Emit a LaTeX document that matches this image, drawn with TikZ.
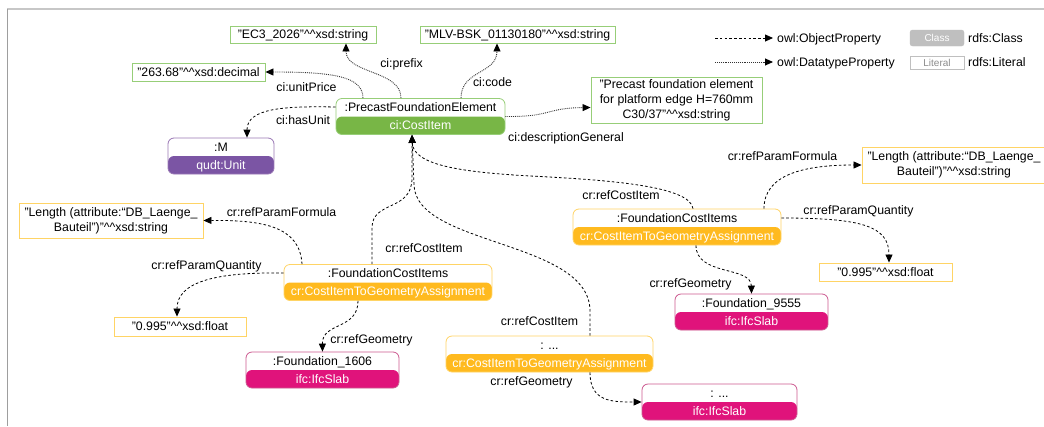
\documentclass[tikz,border=0pt]{standalone}
\usepackage{fontspec}
\setmainfont{Liberation Sans}
\usetikzlibrary{arrows.meta}

% palette
\definecolor{greenF}{HTML}{78B646}
\definecolor{greenB}{HTML}{97CE78}
\definecolor{purpleF}{HTML}{7B55A4}
\definecolor{purpleB}{HTML}{9977B5}
\definecolor{orangeF}{HTML}{FFBA1F}
\definecolor{orangeB}{HTML}{FFD465}
\definecolor{magentaF}{HTML}{E0137B}
\definecolor{magentaB}{HTML}{CC5A90}
\definecolor{legendGray}{HTML}{BFBFBF}

\tikzset{
  x=1pt, y=-1pt,
  lbl/.style={font=\fontsize{12.3}{15}\selectfont, inner sep=0pt, align=center},
  one/.style={text height=8.8pt, text depth=0pt},
  twobox/.style={draw=#1B, line width=0.8pt, rounded corners=6pt, inner sep=0pt,
    minimum height=36pt,
    path picture={\fill[#1F] (path picture bounding box.west) rectangle (path picture bounding box.south east);}},
  litbox/.style={draw=#1, line width=0.9pt, lbl, fill=white},
  objprop/.style={draw=black, line width=0.8pt, dash pattern=on 2.6pt off 2.2pt,
    -{Triangle[length=8pt,width=7pt]}},
  dataprop/.style={draw=black!80, line width=0.9pt, dash pattern=on 0.9pt off 1pt,
    -{Triangle[length=8pt,width=7pt,color=black]}},
}

% two-part individual: name, centre, width, colour key, individual, class
\newcommand\twonode[6]{%
  \node[twobox=#4, minimum width=#3pt] (#1) at #2 {};
  \node[lbl, one] (#1-top) at ([yshift=9pt]#1.center) {#5};
  \node[lbl, one, text=white] (#1-bot) at ([yshift=-9pt]#1.center) {#6};
}

\begin{document}
\begin{tikzpicture}
\useasboundingbox (0,0) rectangle (1044,426);
\fill[white] (0,0) rectangle (1044,426);

% frame lines
\draw[line width=1.8pt, draw=black!22] (7,9) -- (1044,9);
\draw[line width=1.3pt, draw=black!38] (7.5,9) -- (7.5,426);

% individuals
\twonode{main}{(420.5,116.5)}{169}{green}{:PrecastFoundationElement}{ci:CostItem}
\twonode{unitM}{(221,156)}{106}{purple}{:M}{qudt:Unit}
\twonode{fciL}{(388,282.5)}{208}{orange}{:FoundationCostItems}{cr:CostItemToGeometryAssignment}
\twonode{fciR}{(677,227)}{208}{orange}{:FoundationCostItems}{cr:CostItemToGeometryAssignment}
\twonode{fciX}{(549.5,354)}{207}{orange}{: ...}{cr:CostItemToGeometryAssignment}
\twonode{slabL}{(322.5,370)}{153}{magenta}{:Foundation\_1606}{ifc:IfcSlab}
\twonode{slabR}{(751.5,312)}{153}{magenta}{:Foundation\_9555}{ifc:IfcSlab}
\twonode{slabX}{(719.5,402)}{155}{magenta}{: ...}{ifc:IfcSlab}

% literals
\node[litbox=greenB, one, minimum width=146pt, minimum height=17pt] (litPrefix) at (303,34.5) {"EC3\_2026"\^{}\^{}xsd:string};
\node[litbox=greenB, one, minimum width=195pt, minimum height=17pt] (litCode) at (517.5,34.5) {"MLV-BSK\_01130180"\^{}\^{}xsd:string};
\node[litbox=greenB, one, minimum width=133pt, minimum height=18pt] (litPrice) at (198.5,72) {"263.68"\^{}\^{}xsd:decimal};
\node[litbox=greenB, minimum width=171pt, minimum height=46pt] (litDesc) at (676.5,100) {"Precast foundation element\\for platform edge H=760mm\\C30/37"\^{}\^{}xsd:string};
\node[litbox=orangeB, minimum width=184pt, minimum height=35pt] (lenL) at (111,220.5) {"Length (attribute:“DB\_Laenge\_\\Bauteil")"\^{}\^{}xsd:string};
\node[litbox=orangeB, minimum width=184pt, minimum height=36pt] (lenR) at (954,165) {"Length (attribute:“DB\_Laenge\_\\Bauteil")"\^{}\^{}xsd:string};
\node[litbox=orangeB, one, minimum width=132pt, minimum height=19pt] (qtyL) at (180,326.5) {"0.995"\^{}\^{}xsd:float};
\node[litbox=orangeB, one, minimum width=133pt, minimum height=18pt] (qtyR) at (885.5,272) {"0.995"\^{}\^{}xsd:float};

% datatype properties of the cost item
\draw[dataprop] ([xshift=-57.5]main.north) .. controls (363,76) and (332,72) .. (litPrice.east);
\draw[dataprop] ([xshift=-19.5]main.north) .. controls (401,70) and (346,74) .. ([xshift=43]litPrefix.south);
\draw[dataprop] ([xshift=40.5]main.north) .. controls (461,70) and (497,74) .. ([xshift=-20.5]litCode.south);
\draw[dataprop] (main.east) .. controls (552,117) and (545,108) .. ([yshift=-7.5]litDesc.west);

% object properties
\draw[objprop] ([yshift=9.5]main.west) .. controls (285,106) and (247,108) .. ([xshift=26]unitM.north);

\draw[objprop] ([xshift=-16]fciL.north) -- (372,228) .. controls (372,200) and (412,212) .. (412,178) -- ([xshift=-8.5]main.south);
\draw[objprop] ([xshift=16]fciR.north) .. controls (690,186) and (610,180) .. (530,176)
  .. controls (460,172) and (413,165) .. ([xshift=-8.5]main.south);
\draw[objprop] ([xshift=40.5]fciX.north) -- (590,310) .. controls (588,240) and (416,246) .. (414,185) -- ([xshift=-8.5]main.south);

\draw[objprop] ([xshift=-86]fciL.north) .. controls (300,226) and (262,220) .. (lenL.east);
\draw[objprop] ([yshift=9.5]fciL.west) .. controls (215,272) and (177,282) .. ([xshift=-3]qtyL.north);
\draw[objprop] ([xshift=-30]fciL.south) .. controls (358,330) and (322,322) .. (slabL.north);

\draw[objprop] ([xshift=87]fciR.north) .. controls (764,174) and (805,165) .. (lenR.west);
\draw[objprop] ([yshift=9]fciR.east) .. controls (862,218) and (889,226) .. ([xshift=3.5]qtyR.north);
\draw[objprop] ([xshift=19]fciR.south) .. controls (696,276) and (751,266) .. (slabR.north);

\draw[objprop] ([xshift=40.5]fciX.south) .. controls (590,402) and (612,402) .. (slabX.west);

% property labels
\node[lbl, one] (tUnitPrice) at (306.5,87) {ci:unitPrice};
\node[lbl, one] (tPrefix) at (401.5,63.5) {ci:prefix};
\node[lbl, one] (tCode) at (492.5,82) {ci:code};
\node[lbl, one] (tDesc) at (566,137) {ci:descriptionGeneral};
\node[lbl, one] (tHasUnit) at (303,120) {ci:hasUnit};
\node[lbl, one] (tCostL) at (424,248) {cr:refCostItem};
\node[lbl, one] (tCostR) at (621,195) {cr:refCostItem};
\node[lbl, one] (tCostX) at (539.5,321) {cr:refCostItem};
\node[lbl, one] (tFormL) at (281.5,212) {cr:refParamFormula};
\node[lbl, one] (tQtyL) at (206.5,265) {cr:refParamQuantity};
\node[lbl, one] (tGeoL) at (371.5,339) {cr:refGeometry};
\node[lbl, one] (tFormR) at (782.5,156) {cr:refParamFormula};
\node[lbl, one] (tQtyR) at (858.5,210) {cr:refParamQuantity};
\node[lbl, one] (tGeoR) at (690.5,283) {cr:refGeometry};
\node[lbl, one] (tGeoX) at (531.5,381) {cr:refGeometry};

% legend
\coordinate (lgA1) at (715,38);
\coordinate (lgA2) at (773,38);
\coordinate (lgB1) at (715,62);
\coordinate (lgB2) at (773,62);
\draw[objprop] (lgA1) -- (lgA2);
\draw[dataprop] (lgB1) -- (lgB2);
\node[lbl, one, anchor=west] (lgObj) at (777,38) {owl:ObjectProperty};
\node[lbl, one, anchor=west] (lgData) at (777,62) {owl:DatatypeProperty};
\node[fill=legendGray, draw=legendGray, rounded corners=2.5pt, minimum width=54pt, minimum height=16pt, inner sep=0pt,
  text=white, font=\fontsize{10}{12}\selectfont, text height=7.2pt, text depth=0pt] (lgClass) at (937,38) {Class};
\node[draw=legendGray, line width=0.8pt, minimum width=54pt, minimum height=13pt, inner sep=0pt,
  text=black!45, font=\fontsize{10}{12}\selectfont, text height=7.2pt, text depth=0pt] (lgLit) at (937,62.5) {Literal};
\node[lbl, one, anchor=west] (lgClassT) at (968,38) {rdfs:Class};
\node[lbl, one, anchor=west] (lgLitT) at (968,62) {rdfs:Literal};
\end{tikzpicture}
\end{document}
